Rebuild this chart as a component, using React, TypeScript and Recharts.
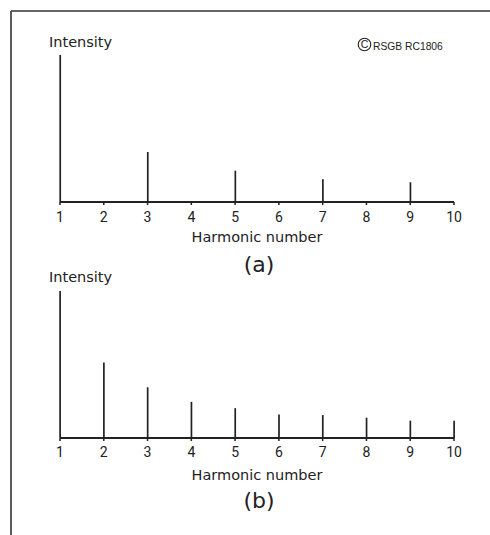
import React from "react";
import { BarChart, Bar, XAxis, YAxis } from "recharts";

// Harmonic axis ticks shared by both spectra
const harmonicTicks = [1, 2, 3, 4, 5, 6, 7, 8, 9, 10];

// (a) odd harmonics only
const squareHarmonics = [1, 3, 5, 7, 9];
const squareIntensity = [100, 34, 21.3, 15.4, 13.4];

// (b) all harmonics
const sawHarmonics = [1, 2, 3, 4, 5, 6, 7, 8, 9, 10];
const sawIntensity = [100, 51.3, 34.5, 24.6, 20.3, 16.0, 15.6, 13.8, 11.8, 11.8];

const INK = "#222";
const TICK_FONT = "Roboto, 'Noto Sans', sans-serif";
const LABEL_FONT = "'DejaVu Sans', 'Noto Sans', sans-serif";
const CREDIT_FONT = "'Liberation Sans', Arial, sans-serif";

const toRows = (h: number[], v: number[]) => h.map((n, i) => ({ n, v: v[i] }));

const Spike = (props: any) => {
  const { x, y, width, height } = props;
  if (x == null || y == null) return null;
  const cx = x + width / 2;
  return <line x1={cx} x2={cx} y1={y} y2={y + height} stroke={INK} strokeWidth={1.7} />;
};

const CHART_W = 490;
const CHART_H = 290;

function Spectrum({ rows, top, tickMargin }: { rows: { n: number; v: number }[]; top: number; tickMargin: number }) {
  return (
    <div style={{ position: "absolute", left: 0, top, width: CHART_W, height: CHART_H }}>
      <BarChart
        width={CHART_W}
        height={CHART_H}
        data={rows}
        margin={{ top: 55, right: 36, left: 60, bottom: 58 }}
        barSize={2}
      >
        <XAxis
          dataKey="n"
          type="number"
          domain={[1, 10]}
          ticks={harmonicTicks}
          interval={0}
          height={30}
          axisLine={{ stroke: INK, strokeWidth: 2 }}
          tickLine={{ stroke: INK, strokeWidth: 1.5 }}
          tickSize={3}
          tickMargin={tickMargin}
          tick={{ fill: INK, fontSize: 14, fontFamily: TICK_FONT }}
        />
        <YAxis hide domain={[0, 100]} />
        <Bar dataKey="v" shape={<Spike />} isAnimationActive={false} />
      </BarChart>
    </div>
  );
}

export default function App() {
  return (
    <div style={{ position: "absolute", left: 0, top: 0, width: 490, height: 535, background: "#fff" }}>
      <Spectrum rows={toRows(squareHarmonics, squareIntensity)} top={0} tickMargin={7} />
      <Spectrum rows={toRows(sawHarmonics, sawIntensity)} top={236} tickMargin={6} />
      <svg
        width={490}
        height={535}
        style={{ position: "absolute", left: 0, top: 0, pointerEvents: "none" }}
      >
        {/* frame */}
        <line x1={11} y1={11} x2={490} y2={11} stroke="#333" strokeWidth={1.6} />
        <line x1={11} y1={11} x2={11} y2={535} stroke="#333" strokeWidth={1.6} />

        <g fill={INK} fontFamily={LABEL_FONT}>
          <text x={49} y={47} fontSize={14.5}>Intensity</text>
          <text x={257} y={242} fontSize={14.5} textAnchor="middle">Harmonic number</text>
          <text x={259} y={272} fontSize={22} textAnchor="middle">(a)</text>

          <text x={49} y={282} fontSize={14.5}>Intensity</text>
          <text x={257} y={480} fontSize={14.5} textAnchor="middle">Harmonic number</text>
          <text x={259} y={508} fontSize={22} textAnchor="middle">(b)</text>
        </g>

        {/* copyright mark: circled C followed by the credit line */}
        <circle cx={364.5} cy={44.5} r={6.3} fill="none" stroke={INK} strokeWidth={1.1} />
        <text x={364.6} y={48.3} fontSize={10.5} textAnchor="middle" fill={INK} fontFamily={CREDIT_FONT}>C</text>
        <text x={373} y={49.5} fontSize={10.3} fill={INK} fontFamily={CREDIT_FONT}>RSGB RC1806</text>
      </svg>
    </div>
  );
}
